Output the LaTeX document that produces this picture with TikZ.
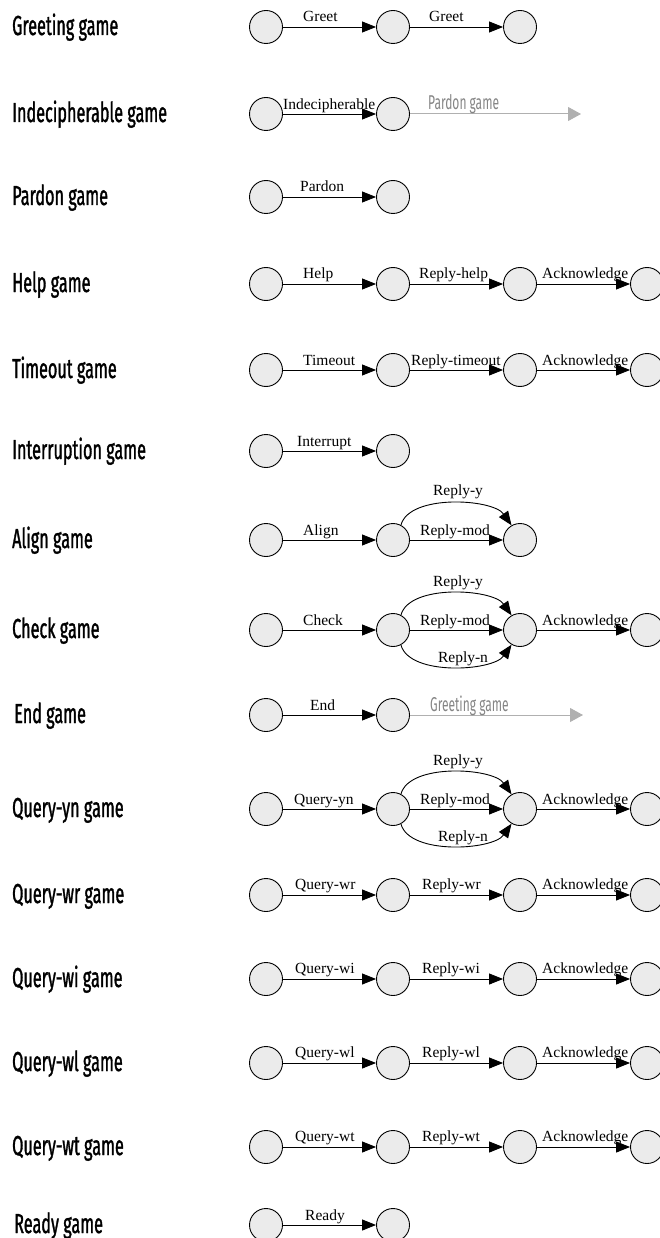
\documentclass[tikz,border=0pt]{standalone}
\usepackage{fontspec}
\setmainfont{Liberation Serif}
\newfontfamily\condsans[FakeStretch=0.59,FakeBold=1.2]{Fira Sans}
\newfontfamily\condsanslight[FakeStretch=0.6]{Fira Sans}
\usetikzlibrary{arrows.meta}
\definecolor{stfill}{HTML}{EBEBEB}
\definecolor{linkgray}{HTML}{B0B0B0}
\definecolor{linktext}{HTML}{858585}
\tikzset{
  st/.style={circle, draw=black, fill=stfill, minimum size=33pt, inner sep=0pt, line width=0.9pt},
  arr/.style={-{Triangle[length=14pt,width=11pt]}, line width=0.9pt},
  grayarr/.style={-{Triangle[length=13pt,width=14pt]}, draw=linkgray, line width=1pt},
  game/.style={anchor=base west, inner sep=0pt, font=\condsans\fontsize{27.5}{30}\selectfont},
  elab/.style={anchor=base west, inner sep=0pt, font=\fontsize{15.5}{18}\selectfont},
  clab/.style={anchor=center, inner sep=0pt, font=\fontsize{15.5}{18}\selectfont},
  glab/.style={anchor=base west, inner sep=0pt, text=linktext, font=\condsanslight\fontsize{20}{22}\selectfont},
  upper/.style={out=75,in=125,looseness=0.75},
  lower/.style={out=-75,in=-125,looseness=0.75},
}
\begin{document}
\begin{tikzpicture}[x=1pt,y=1pt]
\useasboundingbox (0,0) rectangle (659,-1238);

% Greeting game
\node[game] (t1) at (12,-35) {Greeting game};
\node[st] (a1) at (266,-27) {};
\node[st] (b1) at (393,-27) {};
\node[st] (c1) at (520,-27) {};
\draw[arr] (a1) -- (b1);
\draw[arr] (b1) -- (c1);
\node[elab] (l1a) at (303,-22) {Greet};
\node[elab] (l1b) at (429,-22) {Greet};

% Indecipherable game
\node[game] (t2) at (12,-122) {Indecipherable game};
\node[st] (a2) at (266,-114) {};
\node[st] (b2) at (393,-114) {};
\coordinate (e2) at (581,-114);
\draw[arr] (a2) -- (b2);
\draw[grayarr] (b2) -- (e2);
\node[elab] (l2a) at (283,-110) {Indecipherable};
\node[glab] (l2b) at (428,-110) {Pardon game};

% Pardon game
\node[game] (t3) at (12,-205) {Pardon game};
\node[st] (a3) at (266,-197) {};
\node[st] (b3) at (393,-197) {};
\draw[arr] (a3) -- (b3);
\node[elab] (l3a) at (300,-192) {Pardon};

% Help game
\node[game] (t4) at (12,-292) {Help game};
\node[st] (a4) at (266,-284) {};
\node[st] (b4) at (393,-284) {};
\node[st] (c4) at (520,-284) {};
\node[st] (d4) at (647,-284) {};
\draw[arr] (a4) -- (b4);
\draw[arr] (b4) -- (c4);
\draw[arr] (c4) -- (d4);
\node[elab] (l4a) at (303,-279) {Help};
\node[elab] (l4b) at (419,-279) {Reply-help};
\node[elab] (l4c) at (542,-279) {Acknowledge};

% Timeout game
\node[game] (t5) at (12,-378) {Timeout game};
\node[st] (a5) at (266,-370) {};
\node[st] (b5) at (393,-370) {};
\node[st] (c5) at (520,-370) {};
\node[st] (d5) at (647,-370) {};
\draw[arr] (a5) -- (b5);
\draw[arr] (b5) -- (c5);
\draw[arr] (c5) -- (d5);
\node[elab] (l5a) at (303,-365) {Timeout};
\node[elab] (l5b) at (411,-365) {Reply-timeout};
\node[elab] (l5c) at (542,-365) {Acknowledge};

% Interruption game
\node[game] (t6) at (12,-459) {Interruption game};
\node[st] (a6) at (266,-451) {};
\node[st] (b6) at (393,-451) {};
\draw[arr] (a6) -- (b6);
\node[elab] (l6a) at (297,-446) {Interrupt};

% Align game
\node[game] (t7) at (12,-548) {Align game};
\node[st] (a7) at (266,-540) {};
\node[st] (b7) at (393,-540) {};
\node[st] (c7) at (520,-540) {};
\draw[arr] (a7) -- (b7);
\draw[arr] (b7) -- (c7);
\draw[arr] (b7.62) to[upper] (c7.120);
\node[elab] (l7a) at (303,-535) {Align};
\node[elab] (l7b) at (420,-535) {Reply-mod};
\node[clab] (l7c) at (458,-492) {Reply-y};

% Check game
\node[game] (t8) at (12,-638) {Check game};
\node[st] (a8) at (266,-630) {};
\node[st] (b8) at (393,-630) {};
\node[st] (c8) at (520,-630) {};
\node[st] (d8) at (647,-630) {};
\draw[arr] (a8) -- (b8);
\draw[arr] (b8) -- (c8);
\draw[arr] (b8.62) to[upper] (c8.120);
\draw[arr] (b8.-62) to[lower] (c8.-120);
\draw[arr] (c8) -- (d8);
\node[elab] (l8a) at (303,-625) {Check};
\node[elab] (l8b) at (420,-625) {Reply-mod};
\node[clab] (l8c) at (458,-583) {Reply-y};
\node[clab] (l8d) at (463,-659) {Reply-n};
\node[elab] (l8e) at (542,-625) {Acknowledge};

% End game
\node[game] (t9) at (14,-723) {End game};
\node[st] (a9) at (266,-715) {};
\node[st] (b9) at (393,-715) {};
\coordinate (e9) at (583,-715);
\draw[arr] (a9) -- (b9);
\draw[grayarr] (b9) -- (e9);
\node[elab] (l9a) at (310,-710) {End};
\node[glab] (l9b) at (430,-711) {Greeting game};

% Query-yn game
\node[game] (t10) at (12,-817) {Query-yn game};
\node[st] (a10) at (266,-809) {};
\node[st] (b10) at (393,-809) {};
\node[st] (c10) at (520,-809) {};
\node[st] (d10) at (647,-809) {};
\draw[arr] (a10) -- (b10);
\draw[arr] (b10) -- (c10);
\draw[arr] (b10.62) to[upper] (c10.120);
\draw[arr] (b10.-62) to[lower] (c10.-120);
\draw[arr] (c10) -- (d10);
\node[elab] (l10a) at (294,-804) {Query-yn};
\node[elab] (l10b) at (420,-804) {Reply-mod};
\node[clab] (l10c) at (458,-762) {Reply-y};
\node[clab] (l10d) at (463,-838) {Reply-n};
\node[elab] (l10e) at (542,-804) {Acknowledge};

% Query-wr game
\node[game] (t11) at (12,-903) {Query-wr game};
\node[st] (a11) at (266,-895) {};
\node[st] (b11) at (393,-895) {};
\node[st] (c11) at (520,-895) {};
\node[st] (d11) at (647,-895) {};
\draw[arr] (a11) -- (b11);
\draw[arr] (b11) -- (c11);
\draw[arr] (c11) -- (d11);
\node[elab] (l11a) at (295,-889) {Query-wr};
\node[elab] (l11b) at (422,-889) {Reply-wr};
\node[elab] (l11c) at (542,-889) {Acknowledge};

% Query-wi game
\node[game] (t12) at (12,-987) {Query-wi game};
\node[st] (a12) at (266,-979) {};
\node[st] (b12) at (393,-979) {};
\node[st] (c12) at (520,-979) {};
\node[st] (d12) at (647,-979) {};
\draw[arr] (a12) -- (b12);
\draw[arr] (b12) -- (c12);
\draw[arr] (c12) -- (d12);
\node[elab] (l12a) at (295,-973) {Query-wi};
\node[elab] (l12b) at (422,-973) {Reply-wi};
\node[elab] (l12c) at (542,-973) {Acknowledge};

% Query-wl game
\node[game] (t13) at (12,-1071) {Query-wl game};
\node[st] (a13) at (266,-1063) {};
\node[st] (b13) at (393,-1063) {};
\node[st] (c13) at (520,-1063) {};
\node[st] (d13) at (647,-1063) {};
\draw[arr] (a13) -- (b13);
\draw[arr] (b13) -- (c13);
\draw[arr] (c13) -- (d13);
\node[elab] (l13a) at (295,-1057) {Query-wl};
\node[elab] (l13b) at (422,-1057) {Reply-wl};
\node[elab] (l13c) at (542,-1057) {Acknowledge};

% Query-wt game
\node[game] (t14) at (12,-1155) {Query-wt game};
\node[st] (a14) at (266,-1147) {};
\node[st] (b14) at (393,-1147) {};
\node[st] (c14) at (520,-1147) {};
\node[st] (d14) at (647,-1147) {};
\draw[arr] (a14) -- (b14);
\draw[arr] (b14) -- (c14);
\draw[arr] (c14) -- (d14);
\node[elab] (l14a) at (295,-1141) {Query-wt};
\node[elab] (l14b) at (422,-1141) {Reply-wt};
\node[elab] (l14c) at (542,-1141) {Acknowledge};

% Ready game
\node[game] (t15) at (14,-1233) {Ready game};
\node[st] (a15) at (266,-1225) {};
\node[st] (b15) at (393,-1225) {};
\draw[arr] (a15) -- (b15);
\node[elab] (l15a) at (305,-1220) {Ready};
\end{tikzpicture}
\end{document}
